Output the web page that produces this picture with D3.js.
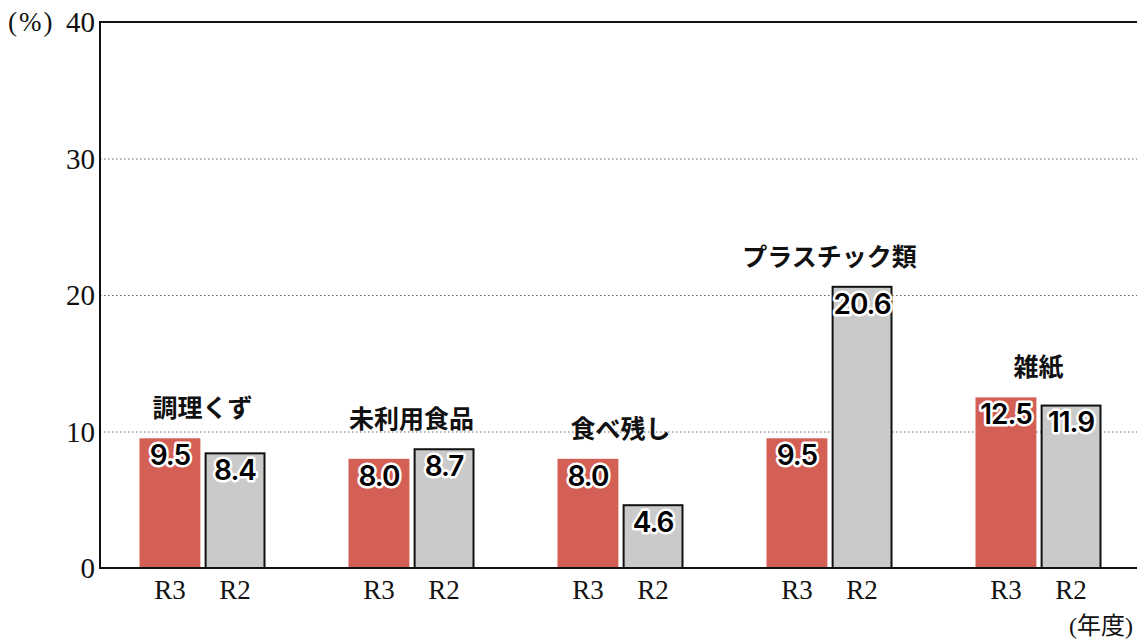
<!DOCTYPE html>
<html>
<head>
<meta charset="utf-8">
<script src="https://cdn.jsdelivr.net/npm/d3@7"></script>
<style>
  body { margin: 0; background: #fff; }
  svg { display: block; }
</style>
</head>
<body>
<div id="chart"></div>
<script>
const categories = ['調理くず', '未利用食品', '食べ残し', 'プラスチック類', '雑紙'];
const series = ['R3', 'R2'];
const valuesR3 = [9.5, 8.0, 8.0, 9.5, 12.5];
const valuesR2 = [8.4, 8.7, 4.6, 20.6, 11.9];
const yTicks = [0, 10, 20, 30, 40];

const width = 1137, height = 641;
const serif = '"Liberation Serif", "DejaVu Serif", "Noto Sans CJK JP", serif';

const svg = d3.select('#chart')
    .append('svg')
    .attr('width', width)
    .attr('height', height);

// scales
const x0 = d3.scaleBand()
    .domain(categories)
    .range([98, 1143]);

const x1 = d3.scaleBand()
    .domain(series)
    .range([-63, 63])
    .paddingInner(0.065);

const y = d3.scaleLinear()
    .domain([0, 40])
    .range([568, 22]);

const color = {R3: '#d45f55', R2: '#c9cac9'};

// dotted grid
svg.append('g')
    .selectAll('line')
    .data(yTicks.filter(t => t > 0 && t < 40))
    .enter()
    .append('line')
    .attr('x1', 100)
    .attr('x2', width)
    .attr('y1', d => y(d) + 0.5)
    .attr('y2', d => y(d) + 0.5)
    .attr('stroke', '#666')
    .attr('stroke-width', 1)
    .attr('stroke-dasharray', '1.5,2.5');

// top line
svg.append('line')
    .attr('x1', 100).attr('x2', width)
    .attr('y1', y(40)).attr('y2', y(40))
    .attr('stroke', '#111').attr('stroke-width', 2);

// y labels
svg.append('g')
    .selectAll('text')
    .data(yTicks)
    .enter()
    .append('text')
    .attr('x', 95)
    .attr('y', d => y(d))
    .attr('dy', '0.35em')
    .attr('text-anchor', 'end')
    .style('font-family', serif)
    .style('font-size', '29px')
    .attr('fill', '#111')
    .text(d => d);

svg.append('text')
    .attr('x', 8)
    .attr('y', y(40))
    .attr('dy', '0.35em')
    .style('font-family', serif)
    .style('font-size', '27px')
    .style('letter-spacing', '2px')
    .attr('fill', '#111')
    .text('(%)');

// groups
const rows = categories.map((c, i) => ({
    cat: c,
    vals: [{s: 'R3', v: valuesR3[i]}, {s: 'R2', v: valuesR2[i]}]
}));

const groups = svg.selectAll('g.grp')
    .data(rows)
    .enter()
    .append('g')
    .attr('class', 'grp')
    .attr('transform', d => `translate(${ x0(d.cat) + x0.bandwidth() / 2 }, 0)`);

groups.selectAll('rect')
    .data(d => d.vals)
    .enter()
    .append('rect')
    .attr('x', d => x1(d.s) + (d.s === 'R2' ? 1 : 0))
    .attr('y', d => y(d.v))
    .attr('width', d => x1.bandwidth() - (d.s === 'R2' ? 2 : 0))
    .attr('height', d => y(0) - y(d.v))
    .attr('fill', d => color[d.s])
    .attr('stroke', d => d.s === 'R2' ? '#111' : 'none')
    .attr('stroke-width', 2);

// value labels
groups.selectAll('text.val')
    .data(d => d.vals)
    .enter()
    .append('text')
    .attr('class', 'val')
    .attr('x', d => x1(d.s) + x1.bandwidth() / 2)
    .attr('y', d => y(d.v) + 17)
    .attr('dy', '0.35em')
    .attr('text-anchor', 'middle')
    .style('font-family', 'Inter, "Open Sans", sans-serif')
    .style('font-weight', 600)
    .style('font-size', '28px')
    .style('letter-spacing', '-1px')
    .style('paint-order', 'stroke')
    .attr('stroke', '#fff')
    .attr('stroke-width', 5)
    .attr('stroke-linejoin', 'round')
    .attr('fill', '#000')
    .text(d => d.v.toFixed(1));

// category labels
groups.append('text')
    .attr('x', 0)
    .attr('y', d => y(d3.max(d.vals, v => v.v)) - 30)
    .attr('dy', '0.35em')
    .attr('text-anchor', 'middle')
    .style('font-family', '"Noto Sans CJK JP", sans-serif')
    .style('font-weight', 'bold')
    .style('font-size', '25px')
    .attr('fill', '#111')
    .text(d => d.cat);

// series labels under axis
groups.selectAll('text.ser')
    .data(d => d.vals)
    .enter()
    .append('text')
    .attr('class', 'ser')
    .attr('x', d => x1(d.s) + x1.bandwidth() / 2)
    .attr('y', 599)
    .attr('text-anchor', 'middle')
    .style('font-family', serif)
    .style('font-size', '27px')
    .attr('fill', '#111')
    .text(d => d.s);

// axes lines
svg.append('line')
    .attr('x1', 100).attr('x2', width)
    .attr('y1', y(0)).attr('y2', y(0))
    .attr('stroke', '#111').attr('stroke-width', 2);

svg.append('line')
    .attr('x1', 100).attr('x2', 100)
    .attr('y1', y(40) - 1).attr('y2', y(0) + 1)
    .attr('stroke', '#111').attr('stroke-width', 2);

svg.append('text')
    .attr('x', 1069)
    .attr('y', 634)
    .style('font-family', serif)
    .style('font-size', '24px')
    .attr('fill', '#111')
    .text('(年度)');
</script>
</body>
</html>
